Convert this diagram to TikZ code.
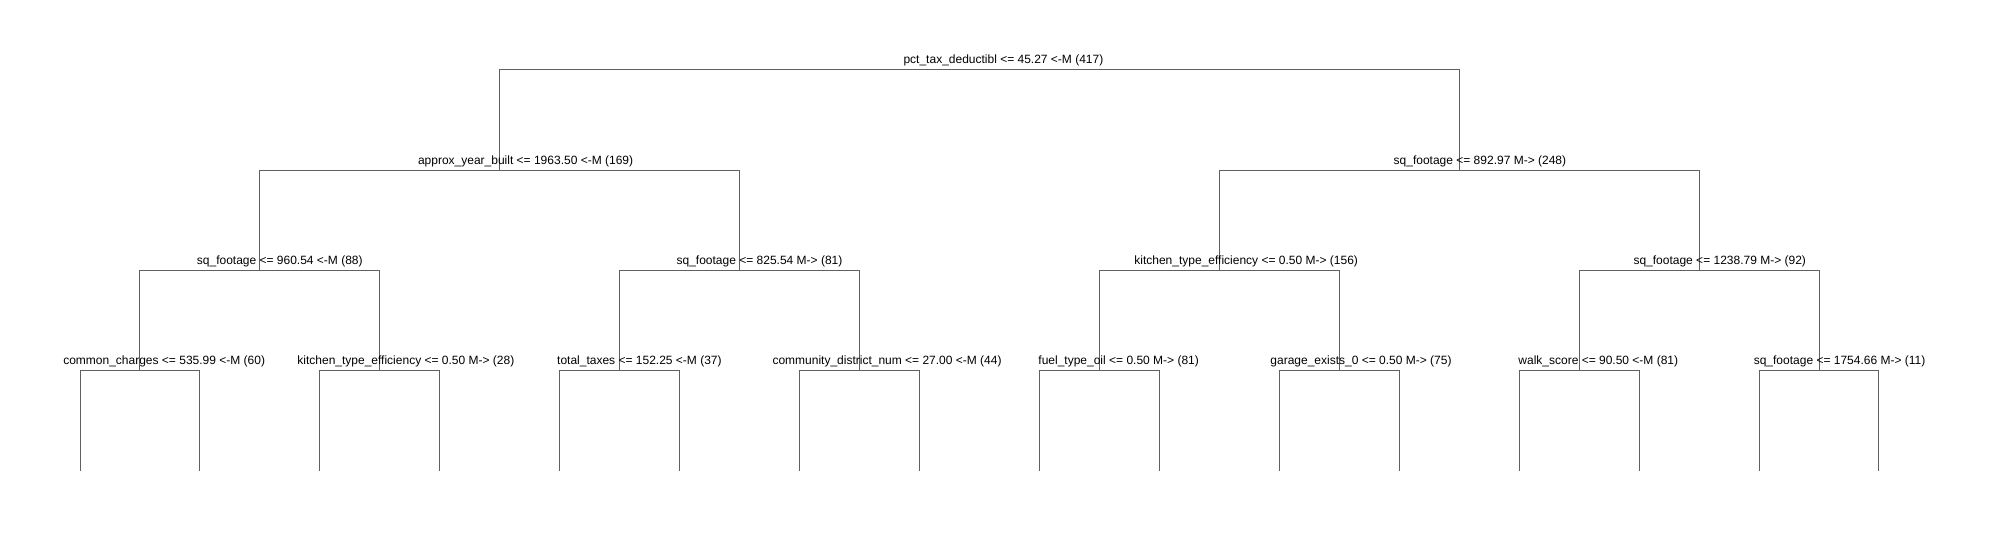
\documentclass[tikz,border=0pt]{standalone}
\usepackage{fontspec}
\setmainfont{Liberation Sans}
\definecolor{linegray}{RGB}{96,96,96}
\newsavebox\lblbox
\newcommand\treelbl[1]{\sbox\lblbox{#1}\makebox[0.76\wd\lblbox][l]{\usebox\lblbox}}
\begin{document}
\begin{tikzpicture}[x=1pt,y=-1pt,
  edge/.style={draw=linegray, line width=1pt},
  lbl/.style={anchor=base, inner sep=0pt, yshift=6pt, font=\fontsize{12}{14}\selectfont, text=black}]
\fill[white] (0,0) rectangle (1998,540);
\useasboundingbox (0,0) rectangle (1998,540);
% internal node positions
\coordinate (r) at (979.48,70);
\coordinate (a) at (499.76,170.25);
\coordinate (b) at (1459.20,170.25);
\coordinate (aa) at (259.90,270.5);
\coordinate (ab) at (739.62,270.5);
\coordinate (ba) at (1219.34,270.5);
\coordinate (bb) at (1699.06,270.5);
\coordinate (c1) at (139.97,370.75);
\coordinate (c2) at (379.83,370.75);
\coordinate (c3) at (619.69,370.75);
\coordinate (c4) at (859.55,370.75);
\coordinate (c5) at (1099.41,370.75);
\coordinate (c6) at (1339.27,370.75);
\coordinate (c7) at (1579.13,370.75);
\coordinate (c8) at (1818.99,370.75);
% leaves
\coordinate (l1) at (80.00,471);
\coordinate (l2) at (199.93,471);
\coordinate (l3) at (319.86,471);
\coordinate (l4) at (439.79,471);
\coordinate (l5) at (559.72,471);
\coordinate (l6) at (679.65,471);
\coordinate (l7) at (799.58,471);
\coordinate (l8) at (919.51,471);
\coordinate (l9) at (1039.44,471);
\coordinate (l10) at (1159.37,471);
\coordinate (l11) at (1279.30,471);
\coordinate (l12) at (1399.23,471);
\coordinate (l13) at (1519.16,471);
\coordinate (l14) at (1639.09,471);
\coordinate (l15) at (1759.02,471);
\coordinate (l16) at (1878.95,471);
% connectors
\draw[edge] (r) -| (a);  \draw[edge] (r) -| (b);
\draw[edge] (a) -| (aa); \draw[edge] (a) -| (ab);
\draw[edge] (b) -| (ba); \draw[edge] (b) -| (bb);
\draw[edge] (aa) -| (c1); \draw[edge] (aa) -| (c2);
\draw[edge] (ab) -| (c3); \draw[edge] (ab) -| (c4);
\draw[edge] (ba) -| (c5); \draw[edge] (ba) -| (c6);
\draw[edge] (bb) -| (c7); \draw[edge] (bb) -| (c8);
\draw[edge] (c1) -| (l1);  \draw[edge] (c1) -| (l2);
\draw[edge] (c2) -| (l3);  \draw[edge] (c2) -| (l4);
\draw[edge] (c3) -| (l5);  \draw[edge] (c3) -| (l6);
\draw[edge] (c4) -| (l7);  \draw[edge] (c4) -| (l8);
\draw[edge] (c5) -| (l9);  \draw[edge] (c5) -| (l10);
\draw[edge] (c6) -| (l11); \draw[edge] (c6) -| (l12);
\draw[edge] (c7) -| (l13); \draw[edge] (c7) -| (l14);
\draw[edge] (c8) -| (l15); \draw[edge] (c8) -| (l16);
% labels
\node[lbl] (tr) at (r) {\treelbl{pct\_tax\_deductibl <= 45.27 <-M (417)}};
\node[lbl] (ta) at (a) {\treelbl{approx\_year\_built <= 1963.50 <-M (169)}};
\node[lbl] (tb) at (b) {\treelbl{sq\_footage <= 892.97 M-> (248)}};
\node[lbl] (taa) at (aa) {\treelbl{sq\_footage <= 960.54 <-M (88)}};
\node[lbl] (tab) at (ab) {\treelbl{sq\_footage <= 825.54 M-> (81)}};
\node[lbl] (tba) at (ba) {\treelbl{kitchen\_type\_efficiency <= 0.50 M-> (156)}};
\node[lbl] (tbb) at (bb) {\treelbl{sq\_footage <= 1238.79 M-> (92)}};
\node[lbl] (tc1) at (c1) {\treelbl{common\_charges <= 535.99 <-M (60)}};
\node[lbl] (tc2) at (c2) {\treelbl{kitchen\_type\_efficiency <= 0.50 M-> (28)}};
\node[lbl] (tc3) at (c3) {\treelbl{total\_taxes <= 152.25 <-M (37)}};
\node[lbl] (tc4) at (c4) {\treelbl{community\_district\_num <= 27.00 <-M (44)}};
\node[lbl] (tc5) at (c5) {\treelbl{fuel\_type\_oil <= 0.50 M-> (81)}};
\node[lbl] (tc6) at (c6) {\treelbl{garage\_exists\_0 <= 0.50 M-> (75)}};
\node[lbl] (tc7) at (c7) {\treelbl{walk\_score <= 90.50 <-M (81)}};
\node[lbl] (tc8) at (c8) {\treelbl{sq\_footage <= 1754.66 M-> (11)}};
\end{tikzpicture}
\end{document}
